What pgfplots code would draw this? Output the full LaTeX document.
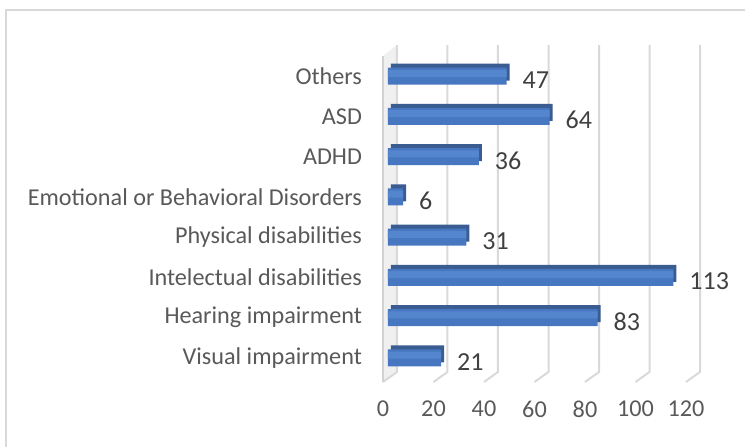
\documentclass[border=0pt]{standalone}
\usepackage{pgfplots}
\pgfplotsset{compat=1.18}
\usepackage{fontspec}
\setmainfont{Carlito}
\definecolor{txt}{HTML}{595959}
\definecolor{grd}{HTML}{D9D9D9}
\definecolor{barA}{HTML}{5486CE}
\definecolor{barM}{HTML}{4677C0}
\definecolor{rim}{HTML}{3A5C91}
\begin{document}
\begin{tikzpicture}[font=\fontsize{12.1}{14}\selectfont]
\useasboundingbox (0,0) rectangle (372.5pt,223pt);
\draw[grd, line width=1pt] (3pt,-1pt) -- (3pt,218pt) -- (374pt,218pt);
\begin{axis}[
  at={(191.5pt,32pt)}, anchor=south west,
  scale only axis, width=151.5pt, height=168.5pt,
  xmin=0, xmax=120, ymin=-0.6, ymax=7.77,
  xtick={0,20,...,120},
  ytick={0,...,7},
  yticklabels={Visual impairment,Hearing impairment,Intelectual disabilities,Physical disabilities,Emotional or Behavioral Disorders,ADHD,ASD,Others},
  axis line style={draw=none}, tick style={draw=none},
  tick label style={text=txt},
  xticklabel style={yshift=-6pt},
  yticklabel style={xshift=-7pt},
  /pgf/number format/assume math mode=true,
  clip=false,
]
% back wall and gridlines
\fill[gray!12] (axis cs:0,-0.6) -- ([xshift=7pt]axis cs:0,-0.35) -- ([xshift=7pt]axis cs:0,7.77) -- (axis cs:0,7.5) -- cycle;
\pgfplotsinvokeforeach{0,20,40,60,80,100,120}{
  \draw[grd, line width=1pt] ([xshift=7pt]axis cs:#1,7.77) -- ([xshift=7pt]axis cs:#1,-0.35) -- (axis cs:#1,-0.6);
}
\draw[gray!35, line width=1pt] (axis cs:0,-0.6) -- (axis cs:0,7.5);
% 3D rim
\addplot[xbar, bar width=8.5pt, bar shift=2pt, xshift=4pt, fill=rim, draw=none] coordinates {
(21,0) (83,1) (113,2) (31,3) (6,4) (36,5) (64,6) (47,7)};
% bars
\addplot[xbar, bar width=8.5pt, xshift=2.5pt, fill=barM, draw=none] coordinates {
(21,0) (83,1) (113,2) (31,3) (6,4) (36,5) (64,6) (47,7)};
\addplot[xbar, bar width=3.5pt, bar shift=1.3pt, xshift=2.5pt, fill=barA, draw=none, forget plot,
  nodes near coords, nodes near coords style={anchor=west, xshift=4.5pt, yshift=-2pt, text=black!75, font=\fontsize{13}{15}\selectfont}] coordinates {
(21,0) (83,1) (113,2) (31,3) (6,4) (36,5) (64,6) (47,7)};
\end{axis}
\end{tikzpicture}
\end{document}
